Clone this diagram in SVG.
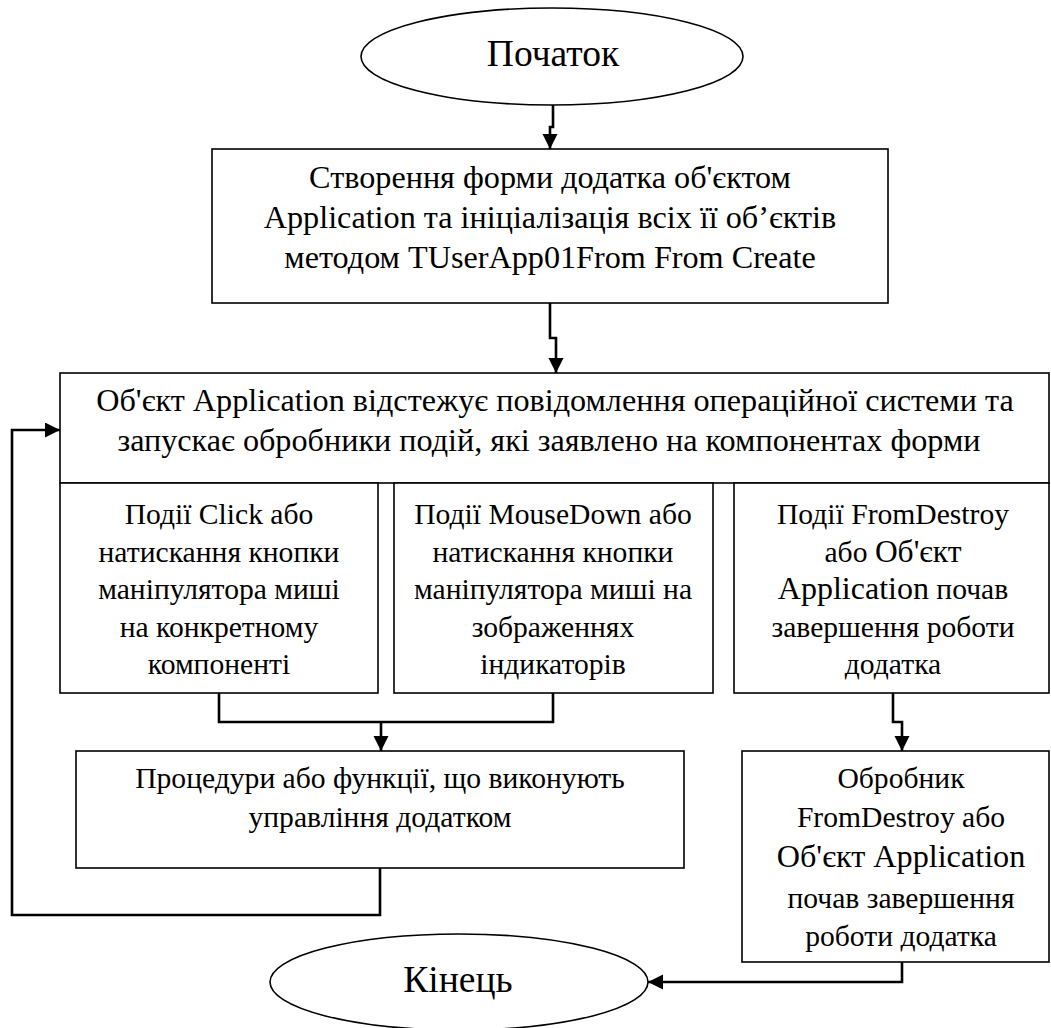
<svg xmlns="http://www.w3.org/2000/svg" width="1051" height="1028" viewBox="0 0 1051 1028">
<style>
  .box { fill: #fff; stroke: #000; stroke-width: 1.6; }
  .term { fill: #fff; stroke: #000; stroke-width: 1.6; }
  .conn { fill: none; stroke: #000; stroke-width: 2.6; }
  text { font-family: "Liberation Serif", "Times New Roman", serif; fill: #000; text-anchor: middle; }
  .t36 { font-size: 37.5px; }
  .t32 { font-size: 32.2px; }
  .t29 { font-size: 29.6px; }
</style>
<defs>
  <marker id="arr" markerUnits="userSpaceOnUse" markerWidth="16" markerHeight="16" refX="15" refY="7.5" orient="auto">
    <path d="M0,0 L15,7.5 L0,15 z" fill="#000"/>
  </marker>
</defs>
<rect width="1051" height="1028" fill="#fff"/>

<g id="connectors">
  <path class="conn" d="M553,105 V127 H550 V149" marker-end="url(#arr)"/>
  <path class="conn" d="M550,303 V338 H556 V373" marker-end="url(#arr)"/>
  <path class="conn" d="M219,693 V722 H553 V693"/>
  <path class="conn" d="M381,722 V751" marker-end="url(#arr)"/>
  <path class="conn" d="M893,693 V722 H902 V751" marker-end="url(#arr)"/>
  <path class="conn" d="M380,868 V915 H12 V430 H60" marker-end="url(#arr)"/>
  <path class="conn" d="M902,962 V982 H648" marker-end="url(#arr)"/>
</g>

<g id="start">
  <ellipse class="term" cx="552" cy="56.5" rx="191" ry="48.5"/>
  <text class="t36" x="553" y="66">Початок</text>
</g>

<g id="create">
  <rect class="box" x="212" y="149" width="676" height="154"/>
  <text class="t32" x="550" y="188">Створення форми додатка об'єктом</text>
  <text class="t32" x="550" y="228">Application та ініціалізація всіх її об’єктів</text>
  <text class="t32" x="550" y="268">методом TUserApp01From From Create</text>
</g>

<g id="app">
  <rect class="box" x="60" y="373" width="989" height="110"/>
  <text class="t32" x="555" y="411">Об'єкт Application відстежує повідомлення операційної системи та</text>
  <text class="t32" x="549" y="451">запускає обробники подій, які заявлено на компонентах форми</text>
</g>

<g id="click">
  <rect class="box" x="60" y="483" width="318" height="210"/>
  <text class="t29" x="219" y="524">Події Click або</text>
  <text class="t29" x="219" y="561.5">натискання кнопки</text>
  <text class="t29" x="219" y="599">маніпулятора миші</text>
  <text class="t29" x="219" y="636.5">на конкретному</text>
  <text class="t29" x="219" y="674">компоненті</text>
</g>

<g id="mousedown">
  <rect class="box" x="394" y="483" width="319" height="210"/>
  <text class="t29" x="553" y="524">Події MouseDown або</text>
  <text class="t29" x="553" y="561.5">натискання кнопки</text>
  <text class="t29" x="553" y="599">маніпулятора миші на</text>
  <text class="t29" x="553" y="636.5">зображеннях</text>
  <text class="t29" x="553" y="674">індикаторів</text>
</g>

<g id="destroy">
  <rect class="box" x="734" y="483" width="315" height="210"/>
  <text class="t29" x="893" y="524">Події FromDestroy</text>
  <text class="t29" x="893" y="561.5">або <tspan font-size="31.5px">Об'єкт</tspan></text>
  <text class="t29" x="893" y="599"><tspan font-size="32px">Application</tspan> почав</text>
  <text class="t29" x="893" y="636.5">завершення роботи</text>
  <text class="t29" x="893" y="674">додатка</text>
</g>

<g id="procedures">
  <rect class="box" x="76" y="751" width="608" height="117"/>
  <text class="t29" x="380" y="788">Процедури або функції, що виконують</text>
  <text class="t29" x="380" y="827">управління додатком</text>
</g>

<g id="handler">
  <rect class="box" x="742" y="751" width="307" height="211"/>
  <text class="t29" x="901" y="788">Обробник</text>
  <text class="t29" x="901" y="827">FromDestroy або</text>
  <text x="901" y="867" font-size="32.2px">Об'єкт Application</text>
  <text class="t29" x="901" y="908">почав завершення</text>
  <text class="t29" x="901" y="946">роботи додатка</text>
</g>

<g id="end">
  <ellipse class="term" cx="459" cy="982" rx="189" ry="48"/>
  <text class="t36" x="458" y="992">Кінець</text>
</g>
</svg>
